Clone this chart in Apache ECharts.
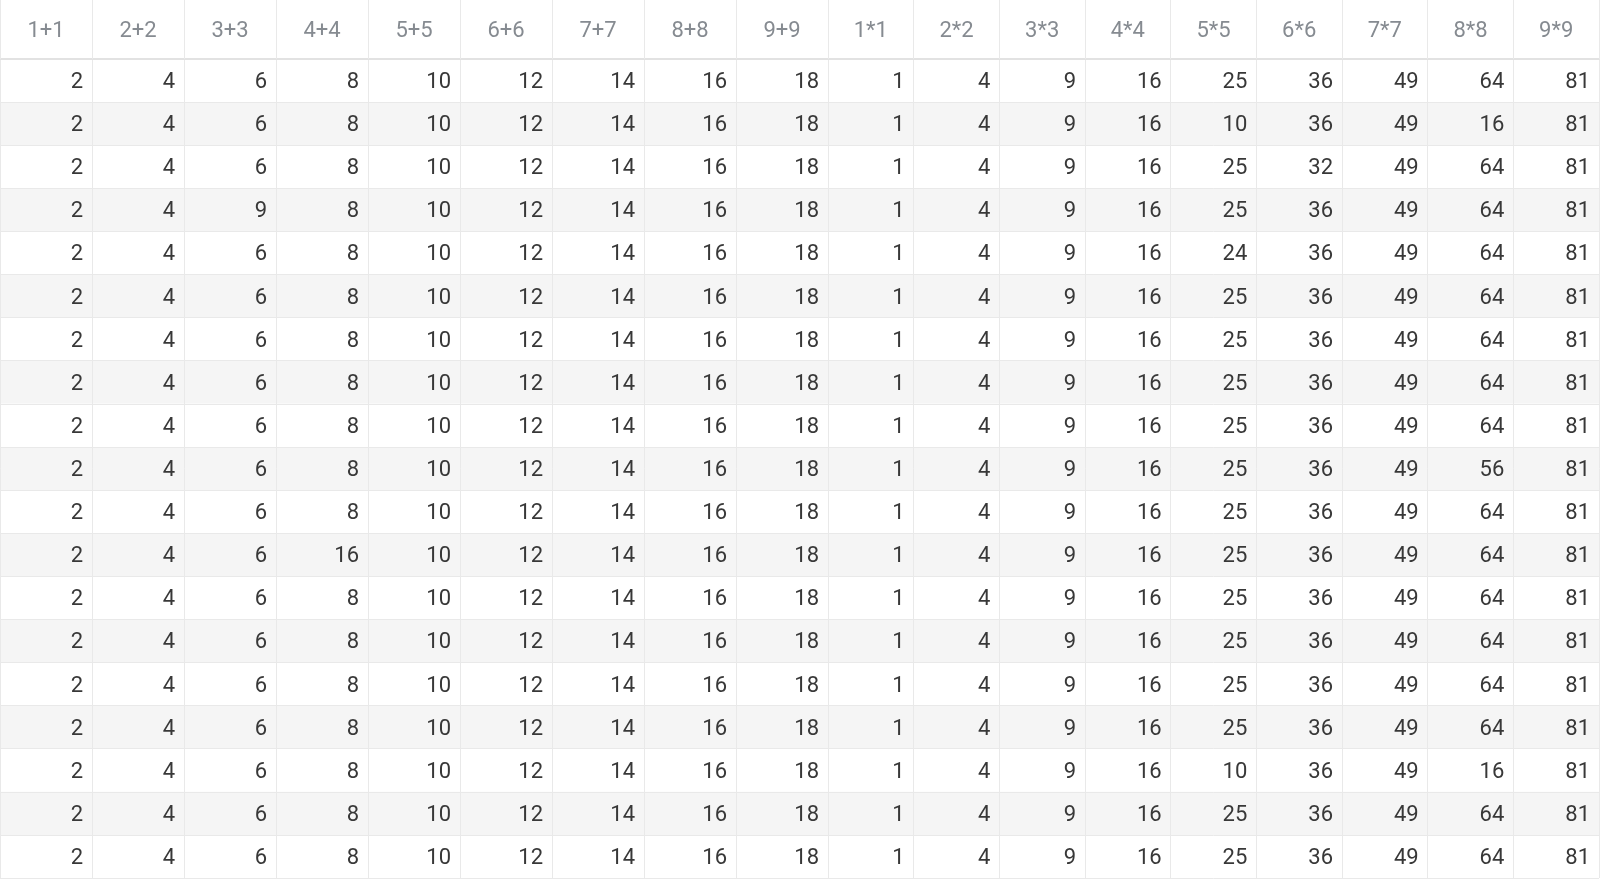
<!DOCTYPE html>
<html>
<head>
<meta charset="utf-8">
<script src="https://cdn.jsdelivr.net/npm/echarts@6/dist/echarts.min.js"></script>
<style>
  html, body { margin: 0; padding: 0; background: #fff; }
  #chart { width: 1600px; height: 881px; }
</style>
</head>
<body>
<div id="chart"></div>
<script>
var plusHeaders = ['1+1', '2+2', '3+3', '4+4', '5+5', '6+6', '7+7', '8+8', '9+9']
var timesHeaders = ['1*1', '2*2', '3*3', '4*4', '5*5', '6*6', '7*7', '8*8', '9*9']

// each row: 9 sums then 9 squares
var tableRows = [
  [2, 4, 6, 8, 10, 12, 14, 16, 18, 1, 4, 9, 16, 25, 36, 49, 64, 81],
  [2, 4, 6, 8, 10, 12, 14, 16, 18, 1, 4, 9, 16, 10, 36, 49, 16, 81],
  [2, 4, 6, 8, 10, 12, 14, 16, 18, 1, 4, 9, 16, 25, 32, 49, 64, 81],
  [2, 4, 9, 8, 10, 12, 14, 16, 18, 1, 4, 9, 16, 25, 36, 49, 64, 81],
  [2, 4, 6, 8, 10, 12, 14, 16, 18, 1, 4, 9, 16, 24, 36, 49, 64, 81],
  [2, 4, 6, 8, 10, 12, 14, 16, 18, 1, 4, 9, 16, 25, 36, 49, 64, 81],
  [2, 4, 6, 8, 10, 12, 14, 16, 18, 1, 4, 9, 16, 25, 36, 49, 64, 81],
  [2, 4, 6, 8, 10, 12, 14, 16, 18, 1, 4, 9, 16, 25, 36, 49, 64, 81],
  [2, 4, 6, 8, 10, 12, 14, 16, 18, 1, 4, 9, 16, 25, 36, 49, 64, 81],
  [2, 4, 6, 8, 10, 12, 14, 16, 18, 1, 4, 9, 16, 25, 36, 49, 56, 81],
  [2, 4, 6, 8, 10, 12, 14, 16, 18, 1, 4, 9, 16, 25, 36, 49, 64, 81],
  [2, 4, 6, 16, 10, 12, 14, 16, 18, 1, 4, 9, 16, 25, 36, 49, 64, 81],
  [2, 4, 6, 8, 10, 12, 14, 16, 18, 1, 4, 9, 16, 25, 36, 49, 64, 81],
  [2, 4, 6, 8, 10, 12, 14, 16, 18, 1, 4, 9, 16, 25, 36, 49, 64, 81],
  [2, 4, 6, 8, 10, 12, 14, 16, 18, 1, 4, 9, 16, 25, 36, 49, 64, 81],
  [2, 4, 6, 8, 10, 12, 14, 16, 18, 1, 4, 9, 16, 25, 36, 49, 64, 81],
  [2, 4, 6, 8, 10, 12, 14, 16, 18, 1, 4, 9, 16, 10, 36, 49, 16, 81],
  [2, 4, 6, 8, 10, 12, 14, 16, 18, 1, 4, 9, 16, 25, 36, 49, 64, 81],
  [2, 4, 6, 8, 10, 12, 14, 16, 18, 1, 4, 9, 16, 25, 36, 49, 64, 81]
]

var rowNames = tableRows.map(function (r, i) { return String(i + 1) })
var lineColor = '#e9e9e9'
var font = 'Roboto'

// cells for one half of the table (offset 0 = sums, 9 = squares)
function cells (offset) {
  var out = []
  tableRows.forEach(function (row, r) {
    for (var c = 0; c < 9; c++) out.push([c, r, row[c + offset]])
  })
  return out
}

function renderCell (params, api) {
  var pt = api.coord([api.value(0), api.value(1)])
  var size = api.size([1, 1])
  return {
    type: 'text',
    style: {
      x: pt[0] + size[0] / 2 - 9,
      y: pt[1] + 2,
      text: String(api.value(2)),
      align: 'right',
      verticalAlign: 'middle',
      fill: '#383838',
      font: '22px ' + font
    }
  }
}

function xAxisFor (gridIndex, headers) {
  return {
    type: 'category',
    gridIndex: gridIndex,
    position: 'top',
    data: headers,
    axisLine: { show: true, lineStyle: { color: '#e2e2e2', width: 2 } },
    axisTick: { show: true, length: 59, lineStyle: { color: lineColor } },
    axisLabel: { margin: 28, verticalAlign: 'middle', color: '#868b91', fontSize: 22, fontFamily: font },
    splitLine: { show: true, lineStyle: { color: lineColor } }
  }
}

function yAxisFor (gridIndex) {
  return {
    type: 'category',
    gridIndex: gridIndex,
    inverse: true,
    data: rowNames,
    axisLine: { show: false },
    axisTick: { show: false },
    axisLabel: { show: false },
    splitLine: { show: true, lineStyle: { color: lineColor } },
    splitArea: { show: true, areaStyle: { color: ['#ffffff', '#f5f5f5'] } }
  }
}

var chart = echarts.init(document.getElementById('chart'))
chart.setOption({
  backgroundColor: '#fff',
  animation: false,
  grid: [
    { left: 0, top: 59, width: 828, bottom: 3 },
    { left: 828, top: 59, right: 1, bottom: 3 }
  ],
  xAxis: [xAxisFor(0, plusHeaders), xAxisFor(1, timesHeaders)],
  yAxis: [yAxisFor(0), yAxisFor(1)],
  series: [
    { type: 'custom', xAxisIndex: 0, yAxisIndex: 0, renderItem: renderCell, data: cells(0) },
    { type: 'custom', xAxisIndex: 1, yAxisIndex: 1, renderItem: renderCell, data: cells(9) }
  ]
})
</script>
</body>
</html>
